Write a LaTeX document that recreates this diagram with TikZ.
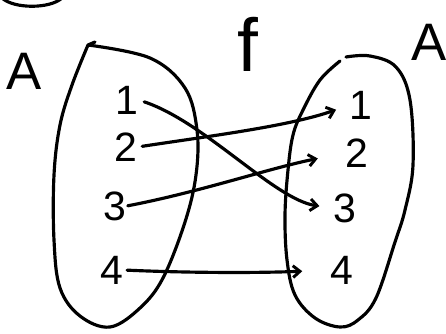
\documentclass[tikz,border=0pt]{standalone}
\usepackage{fontspec}
\setmainfont{Liberation Sans}
\usetikzlibrary{arrows.meta}
\tikzset{
  ink/.style={line width=2.7pt, line cap=round, line join=round, black},
  digit/.style={inner sep=0pt, font=\fontsize{35}{35}\selectfont},
  setname/.style={inner sep=0pt, font=\fontsize{45}{45}\selectfont},
  maparrow/.style={ink, -{Straight Barb[length=6pt,width=10pt,line width=2.5pt]}}
}
\begin{document}
\begin{tikzpicture}[x=0.03cm,y=-0.03cm]
\useasboundingbox (0,0) rectangle (446,333);
% cut-off circle at top
\draw[ink] (2,-2) .. controls (14,9) and (50,9) .. (62,-2);
% set labels
\node[setname] (aL) at (24,71) {A};
\node[setname] (aR) at (429,42) {A};
\node[inner sep=0pt, font=\fontsize{64}{64}\selectfont] (f) at (248,44) {f};
% left blob
\draw[ink] plot[smooth, tension=0.6] coordinates {(88,45) (150,58) (185,88) (197,130) (196,175) (185,222) (163,278) (140,308) (110,327) (80,316) (60,288) (54,240) (54,175) (60,125) (72,85) (88,45)};
\draw[ink] (88,45) -- (95,42);
% right blob
\draw[ink] plot[smooth, tension=0.6] coordinates {(346,57) (370,56) (396,67) (410,100) (413,165) (405,210) (395,242) (376,298) (358,320) (340,327) (315,318) (295,295) (287,260) (285,215) (288,170) (293,135) (303,110) (320,80) (340,61)};
% elements
\node[digit] (l1) at (127,100) {1};
\node[digit] (l2) at (126,147) {2};
\node[digit] (l3) at (115,206) {3};
\node[digit] (l4) at (112,270) {4};
\node[digit] (r1) at (361,105) {1};
\node[digit] (r2) at (357,153) {2};
\node[digit] (r3) at (345,208) {3};
\node[digit] (r4) at (342,270) {4};
% mapping arrows
\draw[maparrow, shorten <=5pt, shorten >=12pt] (l1.east) .. controls (205,122) and (275,200) .. (r3.west);
\draw[maparrow, shorten <=4pt, shorten >=12pt] (l2.east) .. controls (210,136) and (290,126) .. (r1.west);
\draw[maparrow, shorten <=1pt, shorten >=24pt] (l3.east) .. controls (200,192) and (270,168) .. (r2.west);
\draw[maparrow, shorten <=3pt, shorten >=24pt] (l4.east) .. controls (190,273) and (260,273) .. (r4.west);
\end{tikzpicture}
\end{document}
